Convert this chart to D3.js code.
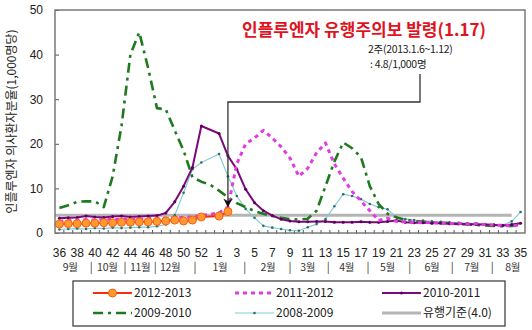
<!DOCTYPE html>
<html><head><meta charset="utf-8">
<script src="https://cdn.jsdelivr.net/npm/d3@7/dist/d3.min.js"></script>
<style>
html,body{margin:0;padding:0;background:#fff;}
svg{display:block;font-family:"Noto Sans CJK KR","Noto Sans",sans-serif;}
</style></head><body>
<svg id="chart" width="532" height="330"></svg>
<script>
// Surveillance weeks, September (week 36) through August (week 35); week 53 only exists in 2009-2010
const weeks = ["36","37","38","39","40","41","42","43","44","45","46","47","48","49","50","51","52","53",
  "1","2","3","4","5","6","7","8","9","10","11","12","13","14","15","16","17","18","19","20",
  "21","22","23","24","25","26","27","28","29","30","31","32","33","34","35"];

const weekTickLabels = ["36","38","40","42","44","46","48","50","52","1","3","5","7","9","11","13","15","17",
  "19","21","23","25","27","29","31","33","35"];

const monthLabels = ["9월","10월","11월","12월","1월","2월","3월","4월","5월","6월","7월","8월"];

const yTicks = [0, 10, 20, 30, 40, 50];

// ILI rate per 1,000 outpatients, one value per week above (null = no report)
const s2012 = [2.0,2.1,2.1,2.2,2.2,2.3,2.3,2.4,2.4,2.5,2.5,2.6,2.7,2.9,2.7,2.9,3.6,null,
  3.8,4.8,null,null,null,null,null,null,null,null,null,null,null,null,null,null,null,null,null,null,
  null,null,null,null,null,null,null,null,null,null,null,null,null,null,null];

const s2011 = [2.6,2.8,2.9,3.0,2.9,3.1,3.0,3.1,3.2,3.1,3.2,3.3,3.3,3.4,3.5,3.6,3.9,null,
  4.5,5.8,15.5,20.0,21.3,23.0,21.3,19.3,16.8,12.7,14.5,18.0,20.2,15.5,12.3,9.3,7.2,5.0,2.8,3.3,
  2.6,2.5,2.4,2.3,2.4,2.2,2.1,2.2,2.0,2.1,1.9,1.8,1.7,1.6,1.8];

const s2010 = [3.3,3.4,3.5,3.8,3.6,3.5,3.7,3.8,3.6,3.7,3.8,3.9,4.5,7.0,10.5,14.7,24.0,null,
  22.3,17.3,14.3,9.8,6.8,5.0,3.9,3.1,2.7,2.5,2.5,2.6,2.6,2.4,2.4,2.4,2.5,2.4,2.4,2.6,
  2.8,2.4,2.3,2.3,2.2,2.2,2.1,2.0,2.0,1.9,1.9,1.8,1.7,1.9,2.2];

const s2009 = [5.6,6.2,7.0,7.1,7.1,5.8,12.7,24.0,40.0,45.0,37.0,28.0,27.7,23.0,18.5,12.5,11.5,10.8,
  9.5,8.0,6.7,5.8,4.9,4.3,3.8,3.4,3.1,3.0,3.2,5.0,10.5,16.0,20.3,19.0,17.0,10.5,6.5,4.3,
  3.5,3.0,2.7,2.5,2.4,2.3,2.2,2.0,1.9,1.8,1.7,1.6,1.5,1.6,2.0];

const s2008 = [0.8,0.9,1.0,0.9,1.1,1.0,1.2,1.1,1.2,1.3,1.3,1.5,1.9,4.0,9.0,14.3,15.8,null,
  17.7,12.7,8.3,5.4,3.4,1.6,1.2,0.9,0.6,0.5,1.3,2.0,3.1,6.0,8.7,8.3,7.6,6.5,5.8,5.3,
  3.6,3.1,2.9,2.8,2.6,2.5,2.4,2.3,2.2,2.1,2.0,1.9,1.8,2.6,4.7];

const thresholdValue = 4.0;
const thresholdLastWeek = "34";

const alertTitle = "인플루엔자 유행주의보 발령(1.17)";
const alertNote = ["2주(2013.1.6~1.12)", ": 4.8/1,000명"];
const alertWeek = "2";
const alertValue = 4.8;

// ---------- layout ----------
const svg = d3.select("#chart");
const plot = {left: 55, right: 525, top: 10, bottom: 233};

const x = d3.scaleBand().domain(weeks).range([plot.left, plot.right]).padding(0);
const y = d3.scaleLinear().domain([0, 50]).range([plot.bottom, plot.top]);
const cx = w => x(w) + x.bandwidth() / 2;

const styles = {
  "2012-2013": {color: "#f2300c", width: 2, dash: null, marker: "orange"},
  "2011-2012": {color: "#e03ce0", width: 3, dash: "4,4", marker: null},
  "2010-2011": {color: "#7a0a7a", width: 2, dash: null, marker: "dot"},
  "2009-2010": {color: "#1e7a1e", width: 2.6, dash: "10,5,3,5", marker: null},
  "2008-2009": {color: "#86cbd3", width: 1.2, dash: null, marker: "teal"}
};
const series = [
  {name: "2008-2009", values: s2008},
  {name: "2009-2010", values: s2009},
  {name: "2010-2011", values: s2010},
  {name: "2011-2012", values: s2011},
  {name: "2012-2013", values: s2012}
];

// y axis
const yAxis = d3.axisLeft(y).tickValues(yTicks).tickSizeInner(-4).tickSizeOuter(0).tickPadding(12);
const gy = svg.append("g").attr("transform", `translate(${plot.left},0)`).call(yAxis);
gy.select(".domain").remove();
gy.selectAll(".tick line").attr("stroke", "#555");
gy.selectAll("text").attr("font-size", 12).attr("fill", "#222");

// x axis labels (every second week)
const xAxis = d3.axisBottom(x).tickValues(weekTickLabels).tickSize(0).tickPadding(15);
const gx = svg.append("g").attr("transform", `translate(0,${plot.bottom})`).call(xAxis);
gx.select(".domain").remove();
gx.selectAll("text").attr("font-size", 12).attr("fill", "#222");

// category boundary ticks
svg.append("g").selectAll("line").data(weeks.slice(1)).join("line")
  .attr("x1", d => x(d)).attr("x2", d => x(d))
  .attr("y1", plot.bottom - 3).attr("y2", plot.bottom + 1)
  .attr("stroke", "#555").attr("stroke-width", 1);

// month row under the week numbers
const monthPos = [1.2, 5.4, 9.1, 12.5, 18.1, 23.5, 28.0, 32.4, 37.0, 42.0, 46.5, 51.1];
const sepPos = [3.6, 7.4, 10.8, 15.3, 20.9, 26.0, 30.3, 34.8, 39.5, 44.3, 48.8];
const posX = p => plot.left + x.step() * (p + 0.5);
svg.append("g").selectAll("text").data(monthLabels).join("text")
  .attr("x", (d, i) => posX(monthPos[i])).attr("y", 271)
  .attr("text-anchor", "middle").attr("font-size", 10.5).attr("letter-spacing", -0.3)
  .attr("fill", "#333").text(d => d);
svg.append("g").selectAll("text").data(sepPos).join("text")
  .attr("x", d => posX(d)).attr("y", 271)
  .attr("text-anchor", "middle").attr("font-size", 11).attr("fill", "#333").text("|");

// y axis title
svg.append("text")
  .attr("transform", `translate(16,${(plot.top + plot.bottom) / 2}) rotate(-90)`)
  .attr("text-anchor", "middle").attr("font-size", 12).attr("fill", "#222")
  .text("인플루엔자 의사환자분율(1,000명당)");

// threshold line
svg.append("line")
  .attr("x1", plot.left).attr("x2", cx(thresholdLastWeek))
  .attr("y1", y(thresholdValue)).attr("y2", y(thresholdValue))
  .attr("stroke", "#b5b5b5").attr("stroke-width", 3);

// series lines
const line = d3.line().x(d => cx(d.w)).y(d => y(d.v));
series.forEach(s => {
  const st = styles[s.name];
  const pts = weeks.map((w, i) => ({w, v: s.values[i]})).filter(d => d.v != null);
  svg.append("path").datum(pts)
    .attr("d", line).attr("fill", "none")
    .attr("stroke", st.color).attr("stroke-width", st.width)
    .attr("stroke-dasharray", st.dash).attr("stroke-linejoin", "round");
  if (st.marker === "orange") {
    svg.append("g").selectAll("circle").data(pts).join("circle")
      .attr("cx", d => cx(d.w)).attr("cy", d => y(d.v)).attr("r", 4)
      .attr("fill", "#ff9a2e").attr("stroke", "#ff5a10").attr("stroke-width", 1);
  } else if (st.marker === "dot") {
    svg.append("g").selectAll("circle").data(pts).join("circle")
      .attr("cx", d => cx(d.w)).attr("cy", d => y(d.v)).attr("r", 1.5)
      .attr("fill", "#5a005a");
  } else if (st.marker === "teal") {
    svg.append("g").selectAll("circle").data(pts).join("circle")
      .attr("cx", d => cx(d.w)).attr("cy", d => y(d.v)).attr("r", 1.3)
      .attr("fill", "#2d6e70");
  }
});

// plot frame
svg.append("rect")
  .attr("x", plot.left).attr("y", plot.top)
  .attr("width", plot.right - plot.left).attr("height", plot.bottom - plot.top)
  .attr("fill", "none").attr("stroke", "#7a7a7a").attr("stroke-width", 1.5);

// alert annotation
svg.append("text").attr("x", 364).attr("y", 36)
  .attr("text-anchor", "middle").attr("font-size", 17).attr("font-weight", "bold")
  .attr("fill", "#e0141e").text(alertTitle);
svg.append("g").selectAll("text").data(alertNote).join("text")
  .attr("x", (d, i) => i === 0 ? 368 : 370).attr("y", (d, i) => 53 + i * 15)
  .attr("font-size", 10.5).attr("fill", "#222").attr("letter-spacing", -0.3).text(d => d);

svg.append("defs").append("marker")
  .attr("id", "arrow").attr("viewBox", "0 0 10 10").attr("refX", 9).attr("refY", 5)
  .attr("markerWidth", 7).attr("markerHeight", 7).attr("orient", "auto")
  .append("path").attr("d", "M0,0 L10,5 L0,10 L3,5 Z").attr("fill", "#111");

const ax = cx(alertWeek), ay = y(alertValue) - 5;
svg.append("path")
  .attr("d", `M420,74 L420,102 L${ax},102 L${ax},${ay}`)
  .attr("fill", "none").attr("stroke", "#333").attr("stroke-width", 1.3)
  .attr("marker-end", "url(#arrow)");

// legend
const leg = svg.append("g");
leg.append("rect").attr("x", 73).attr("y", 281).attr("width", 432).attr("height", 45)
  .attr("fill", "#fff").attr("stroke", "#333").attr("stroke-width", 1.2);
const legendItems = [
  {name: "2012-2013", col: 0, row: 0},
  {name: "2011-2012", col: 1, row: 0},
  {name: "2010-2011", col: 2, row: 0},
  {name: "2009-2010", col: 0, row: 1},
  {name: "2008-2009", col: 1, row: 1},
  {name: "유행기준(4.0)", col: 2, row: 1}
];
const colX = [93, 235, 382];
legendItems.forEach(it => {
  const x0 = colX[it.col], x1 = x0 + 39, yy = 293 + it.row * 20;
  const st = styles[it.name] || {color: "#b5b5b5", width: 3, dash: null, marker: null};
  leg.append("line").attr("x1", x0).attr("x2", x1).attr("y1", yy).attr("y2", yy)
    .attr("stroke", st.color).attr("stroke-width", st.width).attr("stroke-dasharray", st.dash);
  const mx = (x0 + x1) / 2;
  if (st.marker === "orange") leg.append("circle").attr("cx", mx).attr("cy", yy).attr("r", 4)
    .attr("fill", "#ff9a2e").attr("stroke", "#ff5a10");
  if (st.marker === "dot") leg.append("circle").attr("cx", mx).attr("cy", yy).attr("r", 1.5).attr("fill", "#5a005a");
  if (st.marker === "teal") leg.append("circle").attr("cx", mx).attr("cy", yy).attr("r", 1.3).attr("fill", "#2d6e70");
  leg.append("text").attr("x", x1 + 2).attr("y", yy).attr("dy", "0.35em")
    .attr("font-size", 12).attr("fill", "#222").text(it.name);
});
</script>
</body></html>
